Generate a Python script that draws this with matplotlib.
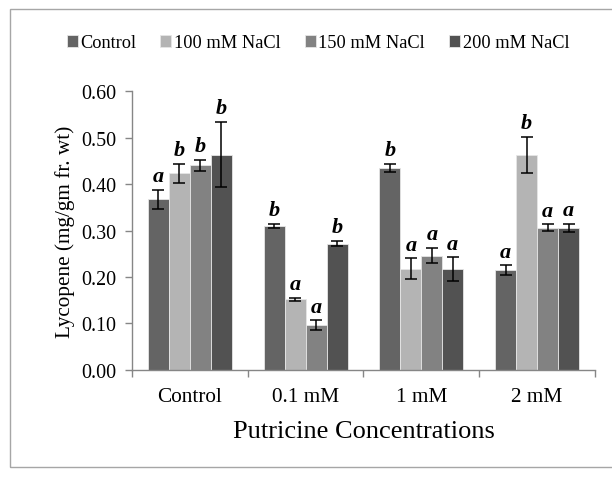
import matplotlib
matplotlib.use('Agg')
import matplotlib.pyplot as plt
import matplotlib.patches as patches
import numpy as np

plt.rcParams['font.family'] = ['Liberation Serif', 'DejaVu Serif']

groups = ['Control', '0.1 mM', '1 mM', '2 mM']
series = ['Control', '100 mM NaCl', '150 mM NaCl', '200 mM NaCl']
colors = ['#646464', '#b4b4b4', '#828282', '#525252']

values = [
    [0.367, 0.310, 0.434, 0.215],
    [0.423, 0.152, 0.218, 0.462],
    [0.440, 0.097, 0.246, 0.306],
    [0.463, 0.272, 0.217, 0.306],
]
errors = [
    [0.020, 0.005, 0.009, 0.010],
    [0.020, 0.003, 0.022, 0.039],
    [0.012, 0.010, 0.016, 0.007],
    [0.070, 0.005, 0.025, 0.009],
]
letters = [
    ['a', 'b', 'b', 'a'],
    ['b', 'a', 'a', 'b'],
    ['b', 'a', 'a', 'a'],
    ['b', 'b', 'a', 'a'],
]

fig = plt.figure(figsize=(6.12, 4.81), dpi=100)
ax = fig.add_axes([0.2157, 0.2287, 0.7565, 0.58])

# outer chart frame
fig.patches.append(patches.Rectangle((10 / 612, 1 - 468 / 481), 1.2, 458 / 481,
                                     transform=fig.transFigure, fill=False,
                                     edgecolor='#a6a6a6', linewidth=1.0))

x = np.arange(len(groups))
w = 0.181
for i, s in enumerate(series):
    pos = x + (i - 1.5) * w
    ax.bar(pos, values[i], w, color=colors[i], edgecolor='#e6e6e6', linewidth=0.6,
           label=s, zorder=2)
    ax.errorbar(pos, values[i], yerr=errors[i], fmt='none', ecolor='black',
                elinewidth=1.1, capsize=4.5, capthick=1.1, zorder=3)
    for p, v, e, t in zip(pos, values[i], errors[i], letters[i]):
        ax.text(p, v + e + 0.008, t, ha='center', va='bottom', fontsize=16,
                fontweight='bold', fontstyle='italic')

ax.set_xlim(-0.5, 3.5)
ax.set_ylim(0, 0.6)
ax.set_yticks(np.arange(0, 0.61, 0.1))
ax.set_yticklabels(['%.2f' % v for v in np.arange(0, 0.61, 0.1)], fontsize=14.4)
ax.set_xticks(x)
ax.set_xticklabels(groups, fontsize=15.3)
ax.set_xticks(np.arange(-0.5, 4, 1), minor=True)
ax.tick_params(axis='x', which='major', length=0, pad=12)
ax.tick_params(axis='x', which='minor', length=5, color='#868686', width=1)
ax.tick_params(axis='y', length=5, color='#868686', width=1, pad=6)

for side in ['top', 'right']:
    ax.spines[side].set_visible(False)
for side in ['left', 'bottom']:
    ax.spines[side].set_color('#868686')
    ax.spines[side].set_linewidth(1)

ax.set_ylabel('Lycopene (mg/gm fr. wt)', fontsize=15.3, labelpad=5)
ax.set_xlabel('Putricine Concentrations', fontsize=19, labelpad=10)

fig.legend(loc='center', bbox_to_anchor=(318 / 612, 1 - 44 / 481), ncol=4,
           frameon=False, fontsize=13.2, handlelength=0.6, handleheight=0.6,
           handletextpad=0.15, columnspacing=1.3)

fig.savefig('out.png', dpi=100)
